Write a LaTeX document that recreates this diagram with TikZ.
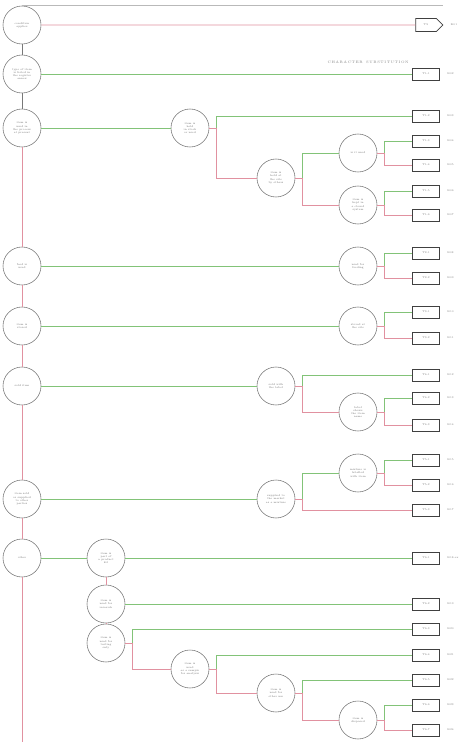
\documentclass[tikz,border=0pt]{standalone}
\usepackage{tikz}
\usetikzlibrary{shapes.symbols, positioning}

\definecolor{yesline}{RGB}{130,195,120}
\definecolor{noline}{RGB}{225,145,160}
\definecolor{edgegray}{RGB}{120,120,120}

\begin{document}
\begin{tikzpicture}[x=0.05cm, y=-0.05cm,
        question/.style={draw=edgegray, line width=0.8pt, circle, minimum size=1.9cm, inner sep=0pt, align=center, text=gray!90!black, font=\fontsize{3.8}{4.6}\selectfont},
        result/.style={draw=gray!50!black, line width=1pt, minimum width=1.35cm, minimum height=0.6cm, inner sep=0pt, text=gray, font=\fontsize{3.8}{4.6}\selectfont},
        terminal/.style={draw=gray!50!black, line width=1pt, signal, signal to=east, minimum width=1.35cm, minimum height=0.65cm, inner sep=0pt, text=gray, font=\fontsize{3.8}{4.6}\selectfont},
        code/.style={right=0.25cm, text=gray, font=\fontsize{3.8}{4.6}\selectfont},
        yes/.style={draw=yesline, line width=1.3pt},
        no/.style={draw=noline, line width=1.3pt},
        plain/.style={draw=edgegray, line width=0.9pt}
    ]

    \useasboundingbox (0,0) rectangle (465,742);

    % Main questions - spine on the left
    \node[question] (q1) at (22,25) {condition\\applies};
    \node[question] (q2) at (22,74) {type of item\\is listed in\\the register\\annex};
    \node[question] (q3) at (22,128) {item is\\used in\\the process\\at present};
    \node[question] (q4) at (22,266) {feed is\\used};
    \node[question] (q5) at (22,326) {item is\\stored};
    \node[question] (q6) at (22,386) {sold item};
    \node[question] (q7) at (22,499) {item sold\\or supplied\\to other\\parties};
    \node[question] (q8) at (22,558) {other};
    \coordinate (spineend) at (22,742);

    % Sub questions
    \node[question] (q3a) at (190,128) {item is\\held\\in stock\\or used};
    \node[question] (q3b) at (276,178) {item is\\held at\\the site\\by others};
    \node[question] (q3c) at (358,153) {is it used};
    \node[question] (q3d) at (358,205) {item is\\kept in\\a closed\\system};
    \node[question] (q4a) at (358,266) {used for\\feeding};
    \node[question] (q5a) at (358,326) {stored at\\the site};
    \node[question] (q6a) at (276,386) {sold with\\the label};
    \node[question] (q6b) at (358,412) {label\\shows\\the item\\name};
    \node[question] (q7a) at (276,499) {supplied to\\the market\\as a mixture};
    \node[question] (q7b) at (358,473) {mixture is\\labelled\\with item};
    \node[question] (q8a) at (106,558) {item is\\part of\\a product\\kit};
    \node[question] (q8b) at (106,604) {item is\\used for\\research};
    \node[question] (q8c) at (106,643) {item is\\used for\\testing\\only};
    \node[question] (q8d) at (190,669) {item is\\used\\as a sample\\for analysis};
    \node[question] (q8e) at (276,693) {item is\\used for\\other use};
    \node[question] (q8f) at (358,720) {item is\\disposed};

    % Results - boxes on the right
    \node[terminal] (r1) at (426,25) {TS};
    \node[result] (r2) at (426,74) {T1-1};
    \node[result] (r3) at (426,116) {T1-2};
    \node[result] (r4) at (426,141) {T1-3};
    \node[result] (r5) at (426,165) {T1-4};
    \node[result] (r6) at (426,191) {T1-5};
    \node[result] (r7) at (426,215) {T1-6};
    \node[result] (r8) at (426,253) {T2-1};
    \node[result] (r9) at (426,278) {T2-2};
    \node[result] (r10) at (426,312) {T3-1};
    \node[result] (r11) at (426,338) {T3-2};
    \node[result] (r12) at (426,375) {T4-1};
    \node[result] (r13) at (426,398) {T4-2};
    \node[result] (r14) at (426,425) {T4-3};
    \node[result] (r15) at (426,460) {T5-1};
    \node[result] (r16) at (426,485) {T5-2};
    \node[result] (r17) at (426,510) {T5-3};
    \node[result] (r18) at (426,558) {T6-1};
    \node[result] (r19) at (426,604) {T6-2};
    \node[result] (r20) at (426,629) {T6-3};
    \node[result] (r21) at (426,655) {T6-4};
    \node[result] (r22) at (426,680) {T6-5};
    \node[result] (r23) at (426,705) {T6-6};
    \node[result] (r24) at (426,730) {T6-7};

    % Codes next to the results
    \node[code] at (r1.east) {K01};
    \node[code] at (r2.east) {K02};
    \node[code] at (r3.east) {K03};
    \node[code] at (r4.east) {K04};
    \node[code] at (r5.east) {K05};
    \node[code] at (r6.east) {K06};
    \node[code] at (r7.east) {K07};
    \node[code] at (r8.east) {K08};
    \node[code] at (r9.east) {K09};
    \node[code] at (r10.east) {K10};
    \node[code] at (r11.east) {K11};
    \node[code] at (r12.east) {K12};
    \node[code] at (r13.east) {K13};
    \node[code] at (r14.east) {K14};
    \node[code] at (r15.east) {K15};
    \node[code] at (r16.east) {K16};
    \node[code] at (r17.east) {K17};
    \node[code] at (r18.east) {K18-ex};
    \node[code] at (r19.east) {K19};
    \node[code] at (r20.east) {K20};
    \node[code] at (r21.east) {K21};
    \node[code] at (r22.east) {K22};
    \node[code] at (r23.east) {K23};
    \node[code] at (r24.east) {K24};

    % Heading line and note
    \draw[draw=gray!55, line width=0.9pt] (q1.north) -- (q1.north -| r1.east);
    \node[text=gray, font=\fontsize{5}{6}\selectfont, above=0.4cm of r2.west, anchor=south east, xshift=-0.05cm] (note) {C\,H\,A\,R\,A\,C\,T\,E\,R \ S\,U\,B\,S\,T\,I\,T\,U\,T\,I\,O\,N};

    % Spine
    \draw[plain] (q1) -- (q2);
    \draw[plain] (q2) -- (q3);
    \draw[no] (q3) -- (q4);
    \draw[no] (q4) -- (q5);
    \draw[no] (q5) -- (q6);
    \draw[no] (q6) -- (q7);
    \draw[no] (q7) -- (q8);
    \draw[no] (q8) -- (spineend);

    % Branches from the spine
    \draw[no] (q1) -- (r1);
    \draw[yes] (q2) -- (r2);
    \draw[yes] (q3) -- (q3a);
    \draw[yes] (q4) -- (q4a);
    \draw[yes] (q5) -- (q5a);
    \draw[yes] (q6) -- (q6a);
    \draw[yes] (q7) -- (q7a);
    \draw[yes] (q8) -- (q8a);

    % Yes / no splits
    \draw[yes] (q3a.east) -- ++(7,0) |- (r3.west);
    \draw[no] (q3a.east) -- ++(7,0) |- (q3b.west);
    \draw[yes] (q3b.east) -- ++(7,0) |- (q3c.west);
    \draw[no] (q3b.east) -- ++(7,0) |- (q3d.west);
    \draw[yes] (q3c.east) -- ++(7,0) |- (r4.west);
    \draw[no] (q3c.east) -- ++(7,0) |- (r5.west);
    \draw[yes] (q3d.east) -- ++(7,0) |- (r6.west);
    \draw[no] (q3d.east) -- ++(7,0) |- (r7.west);
    \draw[yes] (q4a.east) -- ++(7,0) |- (r8.west);
    \draw[no] (q4a.east) -- ++(7,0) |- (r9.west);
    \draw[yes] (q5a.east) -- ++(7,0) |- (r10.west);
    \draw[no] (q5a.east) -- ++(7,0) |- (r11.west);
    \draw[yes] (q6a.east) -- ++(7,0) |- (r12.west);
    \draw[no] (q6a.east) -- ++(7,0) |- (q6b.west);
    \draw[yes] (q6b.east) -- ++(7,0) |- (r13.west);
    \draw[no] (q6b.east) -- ++(7,0) |- (r14.west);
    \draw[yes] (q7a.east) -- ++(7,0) |- (q7b.west);
    \draw[no] (q7a.east) -- ++(7,0) |- (r17.west);
    \draw[yes] (q7b.east) -- ++(7,0) |- (r15.west);
    \draw[no] (q7b.east) -- ++(7,0) |- (r16.west);
    \draw[yes] (q8a) -- (r18);
    \draw[no] (q8a) -- (q8b);
    \draw[yes] (q8b) -- (r19);
    \draw[no] (q8b) -- (q8c);
    \draw[yes] (q8c.east) -- ++(7,0) |- (r20.west);
    \draw[no] (q8c.east) -- ++(7,0) |- (q8d.west);
    \draw[yes] (q8d.east) -- ++(7,0) |- (r21.west);
    \draw[no] (q8d.east) -- ++(7,0) |- (q8e.west);
    \draw[yes] (q8e.east) -- ++(7,0) |- (r22.west);
    \draw[no] (q8e.east) -- ++(7,0) |- (q8f.west);
    \draw[yes] (q8f.east) -- ++(7,0) |- (r23.west);
    \draw[no] (q8f.east) -- ++(7,0) |- (r24.west);

\end{tikzpicture}
\end{document}
